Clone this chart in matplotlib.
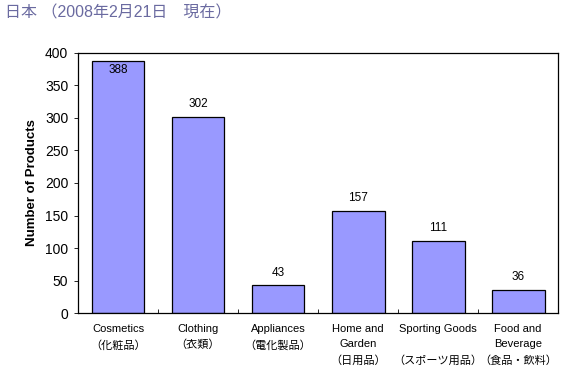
import matplotlib
matplotlib.use("Agg")
import matplotlib.pyplot as plt
import numpy as np

plt.rcParams['font.family'] = ['Liberation Sans', 'Noto Sans CJK JP', 'DejaVu Sans']

categories = ["Cosmetics\n（化粧品）", "Clothing\n（衣類）", "Appliances\n（電化製品）",
              "Home and\nGarden\n（日用品）", "Sporting Goods\n\n（スポーツ用品）",
              "Food and\nBeverage\n（食品・飲料）"]
values = [388, 302, 43, 157, 111, 36]
yticks = [0, 50, 100, 150, 200, 250, 300, 350, 400]

fig = plt.figure(figsize=(5.69, 3.75), dpi=100)
ax = fig.add_axes([0.137, 0.165, 0.844, 0.694])

x = np.arange(len(values))
ax.bar(x, values, width=0.66, color="#9999ff", edgecolor="black", linewidth=0.9)

# 数值标签
for xi, v in zip(x, values):
    if v + 30 > 400:
        ax.text(xi, v - 5, str(v), ha="center", va="top", fontsize=8.5)
    else:
        ax.text(xi, v + 10, str(v), ha="center", va="bottom", fontsize=8.5)

ax.set_xlim(-0.5, len(values) - 0.5)
ax.set_ylim(0, 400)
ax.set_yticks(yticks)
ax.tick_params(axis="y", labelsize=10, length=3, direction="out", width=0.6, pad=4)

# 类别边界的小刻度
ax.set_xticks(np.arange(len(values) + 1) - 0.5)
ax.set_xticklabels([])
ax.tick_params(axis="x", length=3, direction="in", width=0.6)
for xi, lab in zip(x, categories):
    ax.text(xi, -17, lab, ha="center", va="top", fontsize=8, linespacing=1.65,
            transform=ax.transData)

for s in ax.spines.values():
    s.set_linewidth(0.9)

ax.set_ylabel("Number of Products", fontsize=9.5, fontweight="bold", labelpad=5)

fig.text(0.008, 0.965, "日本 （2008年2月21日　現在）", fontsize=11.5, color="#6a6aa0",
         ha="left", va="center")

fig.savefig("out.png", dpi=100)
